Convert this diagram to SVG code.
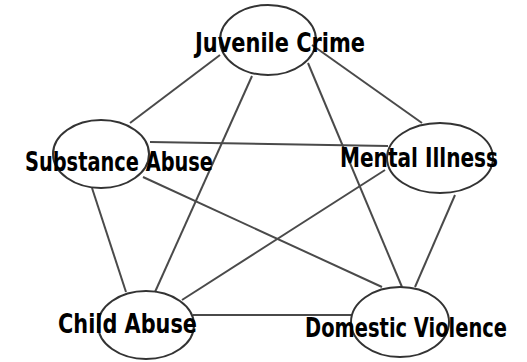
<svg xmlns="http://www.w3.org/2000/svg" width="527" height="362" viewBox="0 0 527 362">
<style>
.e{fill:none;stroke:#333;stroke-width:2}
.c line{stroke:#4a4a4a;stroke-width:2}
.t{font-family:"DejaVu Sans Condensed","DejaVu Sans",sans-serif;font-weight:bold;font-size:27px;fill:#000;text-anchor:start}
</style>
<rect width="527" height="362" fill="#fff"/>
<g class="c" id="connectors">
<line x1="130" y1="123" x2="220" y2="55"/>
<line x1="252" y1="76" x2="155" y2="292"/>
<line x1="308" y1="63" x2="402" y2="287"/>
<line x1="312" y1="45" x2="422" y2="123"/>
<line x1="150" y1="142" x2="388" y2="146"/>
<line x1="92" y1="188" x2="126" y2="292"/>
<line x1="143" y1="177" x2="382" y2="287"/>
<line x1="385" y1="170" x2="182" y2="300"/>
<line x1="455" y1="195" x2="415" y2="287"/>
<line x1="193" y1="315" x2="352" y2="315"/>
</g>
<g id="juvenile-crime"><ellipse class="e" cx="268" cy="40" rx="48" ry="35"/><text class="t" x="195" y="52" textLength="170" lengthAdjust="spacingAndGlyphs">Juvenile Crime</text></g>
<g id="substance-abuse"><ellipse class="e" cx="101" cy="154" rx="48" ry="34"/><text class="t" x="25" y="171" textLength="188" lengthAdjust="spacingAndGlyphs">Substance Abuse</text></g>
<g id="mental-illness"><ellipse class="e" cx="440" cy="158" rx="53" ry="35"/><text class="t" x="340" y="167" textLength="158" lengthAdjust="spacingAndGlyphs">Mental Illness</text></g>
<g id="child-abuse"><ellipse class="e" cx="146" cy="325" rx="48" ry="34"/><text class="t" x="58" y="333" textLength="139" lengthAdjust="spacingAndGlyphs">Child Abuse</text></g>
<g id="domestic-violence"><ellipse class="e" cx="400" cy="322" rx="49" ry="35"/><text class="t" x="305" y="337" textLength="202" lengthAdjust="spacingAndGlyphs">Domestic Violence</text></g>
</svg>
